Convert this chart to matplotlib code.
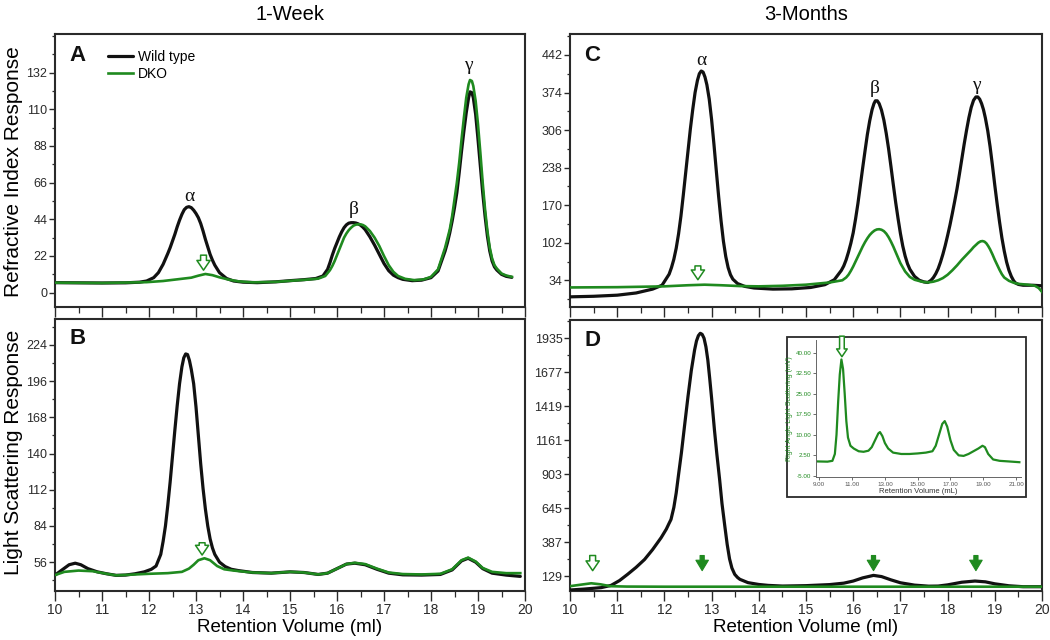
import matplotlib
matplotlib.use("Agg")
import matplotlib.pyplot as plt
from matplotlib.ticker import FixedLocator, MultipleLocator
from matplotlib.patches import Rectangle

# ---------------- data ----------------
# Panel A: refractive index, 1 week
a_wt_x = [10.0, 10.5, 11.0, 11.5, 11.8, 11.95, 12.1, 12.2, 12.3, 12.4, 12.45, 12.5, 12.55, 12.6, 12.65,
          12.7, 12.75, 12.8, 12.85, 12.9, 12.95, 13.0, 13.05, 13.1, 13.15, 13.2, 13.25, 13.3, 13.35,
          13.4, 13.5, 13.65, 13.8, 14.0, 14.3, 14.7, 15.0, 15.3, 15.55, 15.7, 15.8, 15.85, 15.9, 15.95,
          16.0, 16.05, 16.1, 16.15, 16.2, 16.25, 16.3, 16.35, 16.4, 16.45, 16.5, 16.55, 16.6, 16.7,
          16.8, 16.9, 17.0, 17.1, 17.2, 17.3, 17.4, 17.6, 17.8, 18.0, 18.15, 18.3, 18.35, 18.4, 18.45,
          18.5, 18.55, 18.6, 18.65, 18.7, 18.75, 18.8, 18.83, 18.87, 18.9, 18.95, 19.0, 19.05, 19.1,
          19.15, 19.2, 19.25, 19.3, 19.35, 19.4, 19.5, 19.6, 19.72]
a_wt_y = [6.0, 5.9, 5.8, 5.9, 6.3, 7.0, 9, 12, 17, 23.5, 27, 31, 35, 39.5, 43.5,
          47, 49.8, 51.2, 51.6, 51, 49.5, 47.5, 45, 41.5, 37, 32, 27.5, 23, 19.5,
          16.5, 12, 8.5, 7, 6.3, 6, 6.5, 7.2, 7.8, 8.5, 10, 14, 18, 22.5, 26.5,
          30, 33.5, 36.5, 39, 40.7, 41.7, 42, 42, 41.8, 41.3, 40.5, 39.3, 37.8, 33.5,
          28.5, 23, 17.5, 13.2, 10.5, 9.0, 8.0, 7.2, 7.5, 9, 13, 25, 30, 36, 43,
          51, 60, 72, 85, 97, 108, 117, 120.5, 120, 117, 107, 92, 76, 60,
          46, 34, 25, 19, 15.5, 13.6, 11, 9.8, 9.2]
a_ko_x = [10.0, 11.0, 11.95, 12.3, 12.6, 12.9, 13.05, 13.2, 13.35, 13.5, 13.7, 13.9, 14.2, 14.7, 15.0,
          15.3, 15.6, 15.75, 15.85, 15.9, 15.95, 16.0, 16.05, 16.1, 16.15, 16.2, 16.25, 16.3, 16.35,
          16.4, 16.45, 16.5, 16.55, 16.6, 16.7, 16.8, 16.9, 17.0, 17.1, 17.2, 17.3, 17.45, 17.65,
          17.85, 18.0, 18.15, 18.3, 18.4, 18.45, 18.5, 18.55, 18.6, 18.65, 18.7, 18.75, 18.8, 18.83,
          18.87, 18.9, 18.95, 19.0, 19.05, 19.1, 19.15, 19.2, 19.25, 19.3, 19.35, 19.4, 19.5, 19.6, 19.72]
a_ko_y = [6.0, 5.8, 6.3, 7, 8, 9, 10.2, 11.2, 10.5, 9.2, 7.8, 6.8, 6.2, 6.5, 7.1,
          7.7, 8.4, 10, 13.5, 16, 19, 22.5, 26, 29.5, 33, 35.5, 37.5, 39, 40.2,
          40.8, 41, 41, 40.6, 39.8, 37, 33, 28, 22, 16.5, 12.5, 10, 8.3, 7.5,
          8, 9.5, 14, 27, 38, 46, 56, 66, 78, 92, 105, 117, 125, 127.6,
          127, 124, 115, 101, 84, 66, 50, 37, 27, 20.5, 16.5, 14.5, 11.5, 10.3, 9.5]

# Panel B: light scattering, 1 week
b_wt_x = [10.0, 10.15, 10.3, 10.43, 10.55, 10.7, 10.9, 11.1, 11.3, 11.5, 11.7, 11.9, 12.05, 12.15, 12.25,
          12.3, 12.35, 12.4, 12.45, 12.5, 12.55, 12.6, 12.65, 12.7, 12.74, 12.78, 12.82, 12.86, 12.9,
          12.95, 13.0, 13.05, 13.1, 13.15, 13.2, 13.25, 13.3, 13.35, 13.4, 13.5, 13.62, 13.75, 13.9,
          14.2, 14.6, 15.0, 15.3, 15.6, 15.8, 16.0, 16.2, 16.38, 16.6, 16.85, 17.1, 17.4, 17.8, 18.2,
          18.45, 18.65, 18.79, 18.95, 19.1, 19.3, 19.6, 19.9]
b_wt_y = [46, 50, 54, 55.2, 54, 51, 48.5, 47, 45.8, 46, 47, 48.5, 50.5, 53, 62,
          72, 84, 100, 118, 138, 158, 177, 194, 207, 214, 217, 216.5, 212, 205,
          194, 176, 154, 132, 113, 97, 84, 74, 67, 62, 56, 52.6, 50.5, 49.5,
          48, 47.5, 48.5, 48, 46.5, 47.5, 51, 54.5, 55.2, 54, 50.5, 47.5, 46.2, 46, 46.5,
          50, 57, 59, 56, 51, 47.5, 46, 45]
b_ko_x = [10.0, 10.2, 10.5, 10.8, 11.1, 11.3, 11.6, 12.0, 12.4, 12.7, 12.85, 12.95, 13.05, 13.18, 13.3,
          13.45, 13.6, 13.8, 14.2, 14.6, 15.0, 15.3, 15.6, 15.8, 16.0, 16.2, 16.38, 16.6, 16.85, 17.1,
          17.4, 17.8, 18.2, 18.45, 18.65, 18.79, 18.95, 19.1, 19.3, 19.6, 19.9]
b_ko_y = [46, 48.5, 49.5, 49, 47, 45.8, 46.3, 47, 47.5, 48.5, 51, 54, 57.5, 59, 57.5,
          53, 50.5, 49.5, 48, 47.5, 48.5, 48, 46.5, 47.5, 51, 54.5, 55.5, 54.5, 51, 48,
          46.8, 46.5, 47, 50.5, 57.5, 59.5, 56.5, 51.5, 48.5, 47.5, 47.5]

# Panel C: refractive index, 3 months
c_wt_x = [10.0, 10.5, 11.0, 11.4, 11.75, 11.95, 12.1, 12.15, 12.2, 12.25, 12.3, 12.35, 12.4, 12.45,
          12.5, 12.55, 12.6, 12.65, 12.7, 12.74, 12.78, 12.82, 12.86, 12.9, 12.95, 13.0, 13.05, 13.1,
          13.15, 13.2, 13.25, 13.3, 13.35, 13.4, 13.45, 13.55, 13.7, 13.9, 14.3, 14.7, 15.1, 15.4,
          15.6, 15.75, 15.8, 15.85, 15.9, 15.95, 16.0, 16.05, 16.1, 16.15, 16.2, 16.25, 16.3, 16.35,
          16.4, 16.44, 16.47, 16.51, 16.55, 16.6, 16.65, 16.7, 16.75, 16.8, 16.85, 16.9, 16.95, 17.0,
          17.05, 17.1, 17.15, 17.2, 17.3, 17.4, 17.5, 17.58, 17.65, 17.7, 17.75, 17.8, 17.85, 17.9,
          17.95, 18.0, 18.05, 18.1, 18.15, 18.2, 18.25, 18.3, 18.35, 18.4, 18.45, 18.5, 18.55, 18.6,
          18.64, 18.68, 18.72, 18.76, 18.8, 18.85, 18.9, 18.95, 19.0, 19.05, 19.1, 19.15, 19.2, 19.25,
          19.3, 19.35, 19.4, 19.44, 19.5, 19.6, 19.8, 20.0]
c_wt_y = [4, 5, 7, 11, 18, 25, 45, 57, 72, 92, 118, 150, 188, 228,
          268, 308, 343, 374, 396, 408, 413, 411, 402, 388, 362, 325, 280, 232,
          185, 142, 105, 77, 57, 44, 36, 28, 23, 20, 18, 18.5, 21, 26,
          35, 52, 60, 71, 85, 101, 120, 145, 173, 205, 237, 268, 298, 323,
          343, 354, 359, 359, 354, 342, 324, 300, 272, 240, 207, 175, 146, 119,
          96, 78, 64, 54, 41, 34, 31, 30, 34, 39, 46, 55, 67, 81,
          97, 115, 134, 155, 177, 200, 226, 253, 280, 305, 328, 347, 360, 366,
          366, 362, 354, 343, 328, 305, 276, 242, 206, 172, 140, 111, 87, 67,
          52, 41, 33, 29, 26.5, 25, 25, 24]
c_ko_x = [10.0, 11.0, 12.0, 12.5, 12.85, 13.2, 13.6, 14.0, 14.5, 15.0, 15.5, 15.77, 15.85, 15.9, 15.95,
          16.0, 16.05, 16.1, 16.15, 16.2, 16.25, 16.3, 16.35, 16.4, 16.45, 16.5, 16.55, 16.6, 16.65,
          16.7, 16.75, 16.8, 16.85, 16.9, 16.95, 17.0, 17.1, 17.2, 17.3, 17.45, 17.58, 17.7, 17.8,
          17.9, 18.0, 18.1, 18.2, 18.3, 18.4, 18.5, 18.55, 18.6, 18.65, 18.7, 18.74, 18.78, 18.82,
          18.86, 18.9, 18.95, 19.0, 19.05, 19.1, 19.15, 19.2, 19.3, 19.4, 19.5, 19.7, 19.85, 19.93, 20.0]
c_ko_y = [21, 21.5, 23, 25, 26, 25, 23.5, 23, 24, 26, 30, 34, 39, 44, 51,
          59, 68, 77, 86, 95, 103, 110, 116, 120.5, 124, 126, 126.5, 125.5, 123,
          118.5, 112, 104, 95, 85, 75, 65, 50, 40, 35, 31.5, 30, 31.5, 34,
          38, 44, 52, 61, 71, 80, 89, 94, 98, 102, 104.5, 105, 104, 101,
          96, 90, 81, 71, 62, 53, 45, 39, 33, 29.5, 27.5, 26, 24, 20, 13]

# Panel D: light scattering, 3 months
d_wt_x = [10.0, 10.3, 10.66, 10.87, 11.05, 11.22, 11.4, 11.58, 11.75, 11.93, 12.04, 12.1, 12.14, 12.2,
          12.25, 12.3, 12.36, 12.43, 12.5, 12.57, 12.64, 12.68, 12.72, 12.76, 12.8, 12.84, 12.88, 12.92,
          12.96, 13.0, 13.06, 13.11, 13.17, 13.22, 13.28, 13.33, 13.38, 13.43, 13.49, 13.55, 13.6, 13.77,
          14.0, 14.2, 14.5, 15.0, 15.5, 15.8, 16.0, 16.2, 16.43, 16.6, 16.8, 17.0, 17.3, 17.6, 17.8,
          18.0, 18.3, 18.58, 18.8, 19.0, 19.3, 19.6, 20.0]
d_wt_y = [23, 30, 41, 58, 95, 142, 195, 255, 330, 420, 485, 530, 559, 650,
          760, 900, 1064, 1280, 1493, 1690, 1847, 1915, 1955, 1973, 1965, 1935, 1870, 1770,
          1630, 1480, 1240, 1060, 862, 680, 508, 370, 260, 190, 142, 118, 104, 79,
          65, 58, 53, 56, 64, 75, 91, 115, 134, 125, 100, 78, 60, 52, 53,
          62, 82, 91, 85, 70, 55, 48, 48]
d_ko_x = [10.0, 10.2, 10.45, 10.65, 10.85, 11.2, 12.0, 14.0, 16.0, 18.0, 20.0]
d_ko_y = [52, 62, 74, 66, 52, 49, 48, 48, 48, 48, 48]

# Inset: right angle light scattering of DKO
in_x = [8.75, 9.5, 9.8, 9.95, 10.05, 10.15, 10.25, 10.35, 10.45, 10.55, 10.65, 10.75, 10.9, 11.1, 11.4,
        11.7, 12.0, 12.2, 12.4, 12.6, 12.7, 12.85, 13.0, 13.2, 13.5, 14.0, 14.5, 15.0, 15.5, 15.9,
        16.1, 16.3, 16.5, 16.65, 16.8, 17.0, 17.2, 17.5, 17.8, 18.1, 18.4, 18.7, 18.95, 19.1, 19.3,
        19.6, 20.0, 20.5, 21.2]
in_y = [0.3, 0.2, 0.5, 3, 10, 22, 32, 37.5, 34, 25, 15, 9, 6, 5, 4,
        3.8, 4.2, 5.5, 8, 10.5, 11, 9.5, 7, 5, 3.5, 3, 3, 3.2, 3.5, 4,
        6, 10, 14, 15, 13, 8, 4.5, 2.5, 2.3, 3, 4, 5, 6, 5.5, 3,
        1, 0.5, 0.3, 0]

# tick values
a_ticks = [0, 22, 44, 66, 88, 110, 132]
b_ticks = [56, 84, 112, 140, 168, 196, 224]
c_ticks = [34, 102, 170, 238, 306, 374, 442]
d_ticks = [129, 387, 645, 903, 1161, 1419, 1677, 1935]
x_ticks = list(range(10, 21))
in_xticks = [9, 11, 13, 15, 17, 19, 21]
in_yticks = [-5, 2.5, 10, 17.5, 25, 32.5, 40]

# peak labels
a_lab_x = [12.85, 16.35, 18.79]
a_lab_y = [57.6, 49.6, 136]
c_lab_x = [12.78, 16.45, 18.61]
c_lab_y = [432, 382, 386]
greek = ["\u03b1", "\u03b2", "\u03b3"]

# arrows (x, top, bottom)
a_arrow = (13.16, 22.5, 13.5)
b_arrow = (13.13, 71, 61.5)
c_arrow = (12.71, 60, 35)
d_open_arrow = (10.48, 285, 170)
d_fill_x = [12.8, 16.43, 18.6]
d_fill_top, d_fill_bot = 285, 170
in_arrow = (10.38, 46, 38.5)

# ---------------- style ----------------
GREEN = "#1f8a1f"
BLACK = "#111111"
FRAME = "#2a2a2a"
SANS = ["Liberation Sans", "DejaVu Sans"]
plt.rcParams["font.family"] = SANS

W, H = 1050, 640
fig = plt.figure(figsize=(W / 100, H / 100), dpi=100)


def box(l, r, t, b):
    return [l / W, 1 - b / H, (r - l) / W, (b - t) / H]


axA = fig.add_axes(box(55, 525, 34, 307))
axB = fig.add_axes(box(55, 525, 319, 591))
axC = fig.add_axes(box(570, 1042, 34, 307))
axD = fig.add_axes(box(570, 1042, 320, 591))

panels = [
    (axA, a_wt_x, a_wt_y, a_ko_x, a_ko_y, a_ticks, (-8.6, 155.2), 11, False, "A", 0.923),
    (axB, b_wt_x, b_wt_y, b_ko_x, b_ko_y, b_ticks, (33.7, 244), 14, True, "B", 0.93),
    (axC, c_wt_x, c_wt_y, c_ko_x, c_ko_y, c_ticks, (-14.4, 480), 34, False, "C", 0.923),
    (axD, d_wt_x, d_wt_y, d_ko_x, d_ko_y, d_ticks, (15.4, 2074), 129, True, "D", 0.926),
]

for ax, wx, wy, kx, ky, ticks, ylim, minor, xlab, letter, ly in panels:
    ax.plot(wx, wy, color=BLACK, lw=2.3, solid_capstyle="round", solid_joinstyle="round",
            label="Wild type", zorder=3)
    ax.plot(kx, ky, color=GREEN, lw=1.9, solid_joinstyle="round", label="DKO", zorder=4)
    ax.set_xlim(10, 20)
    ax.set_ylim(*ylim)
    ax.xaxis.set_major_locator(FixedLocator(x_ticks))
    ax.xaxis.set_minor_locator(MultipleLocator(0.5))
    ax.yaxis.set_major_locator(FixedLocator(ticks))
    ax.yaxis.set_minor_locator(MultipleLocator(minor))
    ax.tick_params(axis="y", which="major", direction="out", length=4, width=1,
                   labelsize=9, pad=1.5, colors=FRAME)
    ax.tick_params(axis="y", which="minor", direction="out", length=2.5, width=0.9, colors=FRAME)
    ax.tick_params(axis="x", which="major", direction="out", length=7, width=1,
                   labelsize=10, pad=2, colors=FRAME)
    ax.tick_params(axis="x", which="minor", direction="out", length=4, width=0.9, colors=FRAME)
    if not xlab:
        ax.tick_params(axis="x", labelbottom=False)
    for s in ax.spines.values():
        s.set_color(FRAME)
        s.set_linewidth(1.5)
    ax.text(0.03, ly, letter, transform=ax.transAxes, fontsize=16, fontweight="bold",
            ha="left", va="center", color=BLACK)

# legend in A
leg = axA.legend(loc="upper left", bbox_to_anchor=(0.093, 0.976), frameon=False, fontsize=10,
                 handlelength=1.8, handletextpad=0.35, labelspacing=0.22, borderaxespad=0.3)

# greek peak labels
for xs, ys, ax in [(a_lab_x, a_lab_y, axA), (c_lab_x, c_lab_y, axC)]:
    for gx, gy, g in zip(xs, ys, greek):
        ax.text(gx, gy, g, ha="center", va="center", fontsize=14,
                family=["Liberation Serif", "DejaVu Serif"], color=BLACK)


def open_arrow(ax, spec, scale=10):
    x, top, bot = spec
    ax.annotate("", xy=(x, bot), xytext=(x, top),
                arrowprops=dict(arrowstyle="simple,head_width=0.95,head_length=0.7,tail_width=0.42",
                                fc="white", ec=GREEN, lw=1.1, shrinkA=0, shrinkB=0,
                                mutation_scale=scale), zorder=6)


def filled_arrow(ax, x, top, bot):
    ax.annotate("", xy=(x, bot), xytext=(x, top),
                arrowprops=dict(arrowstyle="simple,head_width=0.9,head_length=0.75,tail_width=0.3",
                                fc=GREEN, ec=GREEN, lw=0.8, shrinkA=0, shrinkB=0,
                                mutation_scale=10), zorder=6)


open_arrow(axA, a_arrow)
open_arrow(axB, b_arrow)
open_arrow(axC, c_arrow)
open_arrow(axD, d_open_arrow)
for fx in d_fill_x:
    filled_arrow(axD, fx, d_fill_top, d_fill_bot)

# column titles and axis labels
fig.text(290 / W, 1 - 15 / H, "1-Week", ha="center", va="center", fontsize=14.5)
fig.text(806 / W, 1 - 15 / H, "3-Months", ha="center", va="center", fontsize=14.5)
fig.text(290 / W, 1 - 628 / H, "Retention Volume (ml)", ha="center", va="center", fontsize=13.5)
fig.text(806 / W, 1 - 628 / H, "Retention Volume (ml)", ha="center", va="center", fontsize=13.5)
fig.text(14 / W, 1 - 172 / H, "Refractive Index Response", ha="center", va="center",
         rotation=90, fontsize=15)
fig.text(14 / W, 1 - 452 / H, "Light Scattering Response", ha="center", va="center",
         rotation=90, fontsize=15)

# inset
fig.patches.append(Rectangle((787 / W, 1 - 497 / H), (1026 - 787) / W, (497 - 337) / H,
                             transform=fig.transFigure, fc="white", ec=FRAME, lw=1.3, zorder=5))
axI = fig.add_axes(box(816, 1021, 340, 477))
axI.set_zorder(6)
axI.patch.set_alpha(0)
axI.plot(in_x, in_y, color=GREEN, lw=1.6)
axI.set_xlim(8.8, 21.3)
axI.set_ylim(-5.4, 44.6)
axI.xaxis.set_major_locator(FixedLocator(in_xticks))
axI.yaxis.set_major_locator(FixedLocator(in_yticks))
axI.set_xticklabels(["%.2f" % v for v in in_xticks])
axI.set_yticklabels(["%.2f" % v for v in in_yticks])
axI.tick_params(axis="both", length=2, width=0.6, labelsize=4.5, pad=1.5, colors="#555555")
axI.tick_params(axis="y", labelcolor=GREEN)
for side in ["top", "right"]:
    axI.spines[side].set_visible(False)
for side in ["left", "bottom"]:
    axI.spines[side].set_color("#666666")
    axI.spines[side].set_linewidth(0.7)
axI.set_xlabel("Retention Volume (mL)", fontsize=5.5, labelpad=1, color="#333333")
axI.set_ylabel("Right Angle Light Scattering (mV)", fontsize=5, labelpad=1.5, color=GREEN)
open_arrow(axI, in_arrow, scale=8)

fig.savefig("out.png", dpi=100)
